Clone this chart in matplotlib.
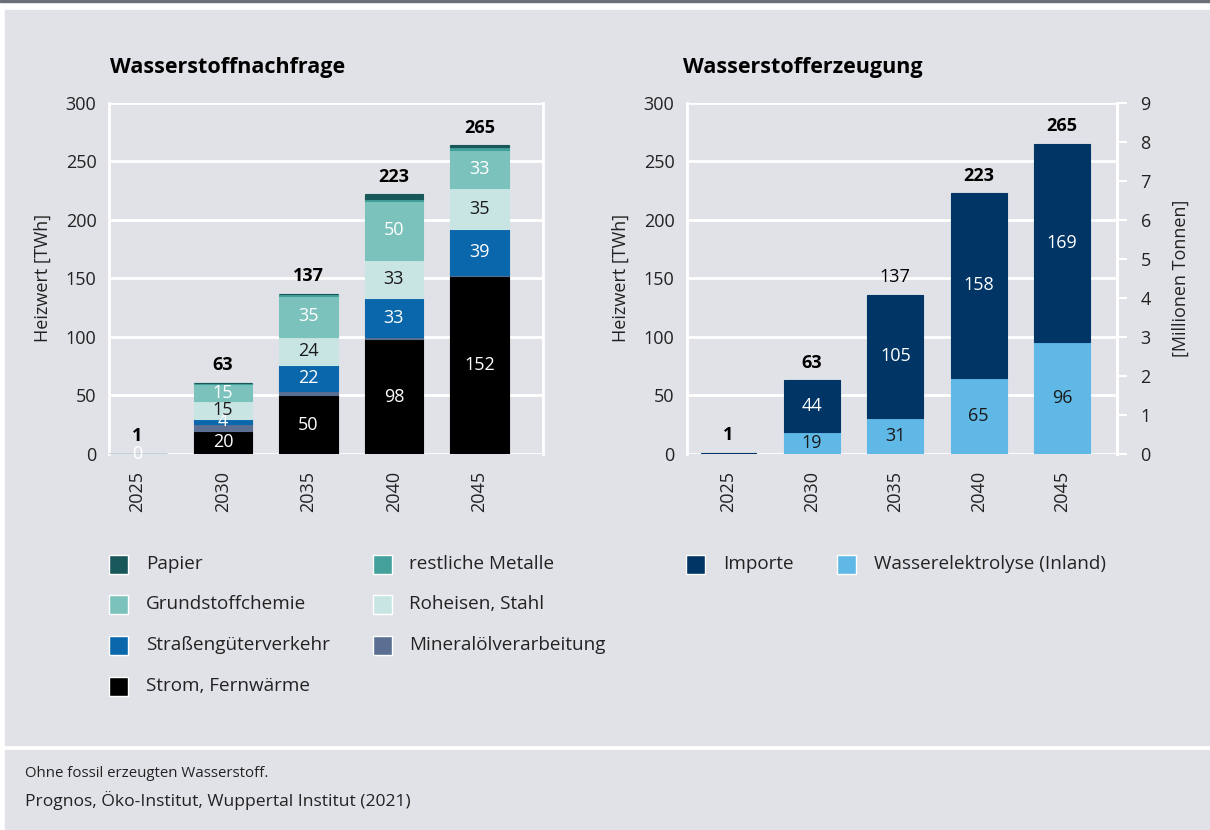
import matplotlib
matplotlib.use('Agg')
import matplotlib.pyplot as plt
from matplotlib.patches import Rectangle
import numpy as np

plt.rcParams['font.family'] = ['Open Sans', 'DejaVu Sans']

# ---------------- data ----------------
years = ['2025', '2030', '2035', '2040', '2045']

# demand (TWh), bottom -> top
strom = [0, 20, 50, 98, 152]
mineraloel = [0, 6, 4, 2, 1]
strassen = [0, 4, 22, 33, 39]
roheisen = [0.4, 15, 24, 33, 35]
grundstoff = [0, 15, 35, 50, 33]
metalle = [0, 1, 2, 2, 2]
papier = [0, 0, 0, 4, 2]
demand_totals = [1, 63, 137, 223, 265]

# supply (TWh), bottom -> top
elektrolyse = [0, 19, 31, 65, 96]
importe = [1, 44, 105, 158, 169]
supply_totals = [1, 63, 137, 223, 265]
supply_total_bold = [True, True, False, True, True]

demand_series = [
    ('Strom, Fernwärme', strom, '#000000', 'white', True),
    ('Mineralölverarbeitung', mineraloel, '#5a6f91', 'white', False),
    ('Straßengüterverkehr', strassen, '#0a67ac', 'white', True),
    ('Roheisen, Stahl', roheisen, '#c8e5e3', '#1a1a1a', True),
    ('Grundstoffchemie', grundstoff, '#7cc2bc', 'white', True),
    ('restliche Metalle', metalle, '#44a09a', 'white', False),
    ('Papier', papier, '#18575a', 'white', False),
]
supply_series = [
    ('Wasserelektrolyse (Inland)', elektrolyse, '#5fb8e6', '#1a1a1a', True),
    ('Importe', importe, '#003566', 'white', True),
]

W, H = 1210, 830
BG = '#e1e2e7'
TXT = '#222222'

fig = plt.figure(figsize=(W / 100, H / 100), dpi=100)
fig.patch.set_facecolor('white')

def px(x, y, w, h):
    return [x / W, 1 - (y + h) / H, w / W, h / H]

# background panels
fig.add_artist(Rectangle((0, 1 - 2 / H), 1, 2 / H, transform=fig.transFigure,
                         color='#6c6f77', zorder=0))
fig.add_artist(Rectangle((5 / W, 1 - 745 / H), 1, (745 - 10) / H,
                         transform=fig.transFigure, color=BG, zorder=0))
fig.add_artist(Rectangle((5 / W, 0), 1, (830 - 750) / H,
                         transform=fig.transFigure, color=BG, zorder=0))


def style_axes(ax, xlim):
    ax.set_facecolor('none')
    ax.set_xlim(*xlim)
    ax.set_ylim(0, 300)
    ax.set_yticks(np.arange(0, 301, 50))
    ax.grid(axis='y', color='white', linewidth=2, zorder=0)
    ax.set_axisbelow(True)
    for s in ['top', 'bottom']:
        ax.spines[s].set_visible(False)
    for s in ['left', 'right']:
        ax.spines[s].set_color('white')
        ax.spines[s].set_linewidth(2)
    ax.tick_params(axis='y', length=0, pad=9, labelsize=13, labelcolor=TXT)
    ax.tick_params(axis='x', length=0, pad=12, labelsize=13, labelcolor=TXT,
                   rotation=90)
    ax.set_ylabel('Heizwert [TWh]', fontsize=13, color=TXT, labelpad=10)


def stacked(ax, series, totals, bold, width):
    x = np.arange(len(years))
    bottom = np.zeros(len(years))
    for name, vals, col, tcol, lab in series:
        vals = np.array(vals, dtype=float)
        ax.bar(x, vals, width, bottom=bottom, color=col, zorder=3,
               edgecolor=col, linewidth=0.8)
        if lab:
            for i, v in enumerate(vals):
                if v >= 4 or (0 < v < 1):
                    c = 'white' if v < 1 else tcol
                    yy = bottom[i] + v / 2
                    ax.text(x[i], yy, f'{v:.0f}', ha='center', va='center',
                            fontsize=13, color=c, zorder=4)
        bottom += vals
    for i, t in enumerate(totals):
        ax.annotate(f'{t}', (x[i], bottom[i]), xytext=(0, 6),
                    textcoords='offset points', ha='center', va='bottom',
                    fontsize=13, color='black',
                    fontweight='bold' if bold[i] else 'normal', zorder=4)
    ax.set_xticks(x)
    ax.set_xticklabels(years)


# left chart
ax1 = fig.add_axes(px(109, 102.7, 434, 351.3))
style_axes(ax1, (-0.333, 4.743))
stacked(ax1, demand_series, demand_totals, [True] * 5, 0.68)

# right chart
ax2 = fig.add_axes(px(687, 102.7, 430, 351.3))
style_axes(ax2, (-0.498, 4.658))
stacked(ax2, supply_series, supply_totals, supply_total_bold, 0.67)

ax2b = ax2.twinx()
ax2b.set_ylim(0, 9)
ax2b.set_yticks(np.arange(0, 10, 1))
for s in ['top', 'bottom', 'left']:
    ax2b.spines[s].set_visible(False)
ax2b.spines['right'].set_color('white')
ax2b.spines['right'].set_linewidth(2)
ax2b.tick_params(axis='y', length=7, width=1.5, color='white', pad=10,
                 labelsize=13, labelcolor=TXT)
ax2b.set_ylabel('[Millionen Tonnen]', fontsize=13, color=TXT, labelpad=15,
                rotation=90)

# titles
fig.text(110 / W, 1 - 68 / H, 'Wasserstoffnachfrage', fontsize=15.5,
         fontweight='bold', color='black', va='center', ha='left')
fig.text(683 / W, 1 - 68 / H, 'Wasserstofferzeugung', fontsize=15.5,
         fontweight='bold', color='black', va='center', ha='left')

# legends (manual placement)
def legend_item(xp, xt, yc, label, color):
    s = 19
    fig.add_artist(Rectangle((xp / W, 1 - (yc + s / 2) / H), s / W, s / H,
                             transform=fig.transFigure, facecolor=color,
                             edgecolor='white', linewidth=1.0, zorder=2))
    fig.text(xt / W, 1 - yc / H, label, fontsize=13.6, color=TXT,
             va='center', ha='left')

lookup = {n: c for n, v, c, t, l in demand_series + supply_series}
left_layout = [
    ('Papier', 109, 146, 564), ('restliche Metalle', 373, 409, 564),
    ('Grundstoffchemie', 109, 146, 604), ('Roheisen, Stahl', 373, 409, 604),
    ('Straßengüterverkehr', 109, 146, 645), ('Mineralölverarbeitung', 373, 409, 645),
    ('Strom, Fernwärme', 109, 146, 686),
    ('Importe', 686, 723, 564), ('Wasserelektrolyse (Inland)', 837, 874, 564),
]
for name, xp, xt, yc in left_layout:
    legend_item(xp, xt, yc, name, lookup[name])

# footer
fig.text(25 / W, 1 - 773 / H, 'Ohne fossil erzeugten Wasserstoff.',
         fontsize=10.8, color=TXT, va='center', ha='left')
fig.text(25 / W, 1 - 801 / H, 'Prognos, Öko-Institut, Wuppertal Institut (2021)',
         fontsize=12.6, color=TXT, va='center', ha='left')

fig.savefig('out.png', dpi=100, facecolor=fig.get_facecolor())
